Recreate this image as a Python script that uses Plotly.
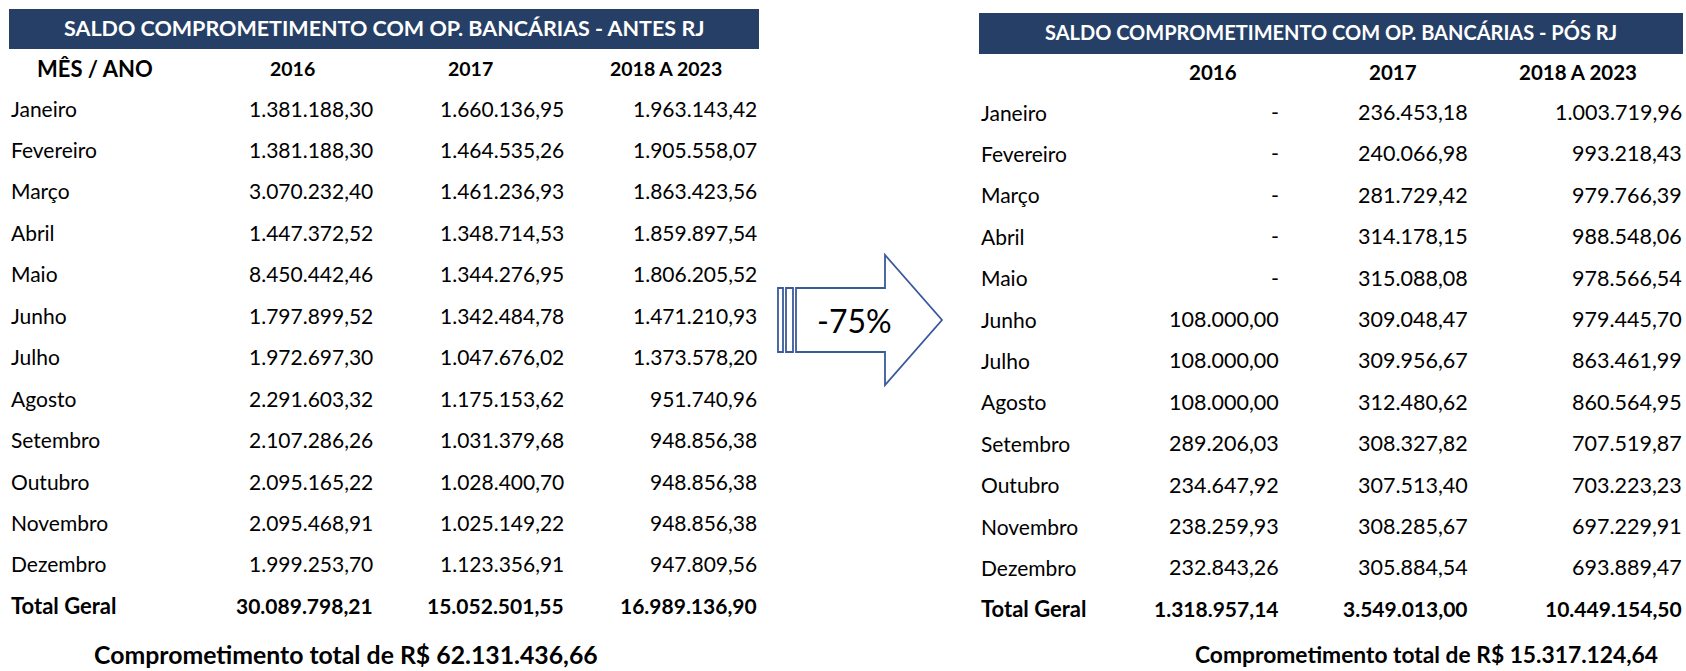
import plotly.graph_objects as go

# ---------------- DATA ----------------
months = ["Janeiro", "Fevereiro", "Março", "Abril", "Maio", "Junho", "Julho",
          "Agosto", "Setembro", "Outubro", "Novembro", "Dezembro"]
col_headers = ["2016", "2017", "2018 A 2023"]

antes_2016 = [1381188.30, 1381188.30, 3070232.40, 1447372.52, 8450442.46, 1797899.52,
              1972697.30, 2291603.32, 2107286.26, 2095165.22, 2095468.91, 1999253.70]
antes_2017 = [1660136.95, 1464535.26, 1461236.93, 1348714.53, 1344276.95, 1342484.78,
              1047676.02, 1175153.62, 1031379.68, 1028400.70, 1025149.22, 1123356.91]
antes_2018_2023 = [1963143.42, 1905558.07, 1863423.56, 1859897.54, 1806205.52, 1471210.93,
                   1373578.20, 951740.96, 948856.38, 948856.38, 948856.38, 947809.56]
antes_totals = [30089798.21, 15052501.55, 16989136.90]
antes_grand_total = 62131436.66

pos_2016 = [None, None, None, None, None, 108000.00, 108000.00, 108000.00,
            289206.03, 234647.92, 238259.93, 232843.26]
pos_2017 = [236453.18, 240066.98, 281729.42, 314178.15, 315088.08, 309048.47,
            309956.67, 312480.62, 308327.82, 307513.40, 308285.67, 305884.54]
pos_2018_2023 = [1003719.96, 993218.43, 979766.39, 988548.06, 978566.54, 979445.70,
                 863461.99, 860564.95, 707519.87, 703223.23, 697229.91, 693889.47]
pos_totals = [1318957.14, 3549013.00, 10449154.50]
pos_grand_total = 15317124.64

title_antes = "SALDO COMPROMETIMENTO COM OP. BANCÁRIAS - ANTES RJ"
title_pos = "SALDO COMPROMETIMENTO COM OP. BANCÁRIAS - PÓS RJ"
reduction_label = "-75%"

# ---------------- STYLE / LAYOUT ----------------
W, H = 1686, 671
FONT = "Lato"
NAVY = "#263F66"
ARROW = "#3B5A9A"
TEXT_DY = -2


def brl(v):
    if v is None or v == 0:
        return "-"
    s = f"{v:,.2f}"
    return s.replace(",", "X").replace(".", ",").replace("X", ".")


annotations = []
shapes = []


def txt(x, y, text, size=21, bold=False, anchor="right", color="black"):
    annotations.append(dict(
        x=x, y=y + TEXT_DY, xref="x", yref="y", text=f"<b>{text}</b>" if bold else text,
        showarrow=False, xanchor=anchor, yanchor="middle",
        font=dict(family=FONT, size=size, color=color), borderpad=0))


def table(box, title, title_size, header_y, header_size, first_row_y, row_step,
          total_y, label_x, header_x, value_right, value_size, cols, totals,
          month_header, footer_x, footer_y, footer_size, grand):
    x0, y0, x1, y1 = box
    shapes.append(dict(type="rect", xref="x", yref="y", x0=x0, x1=x1, y0=y0, y1=y1,
                       fillcolor=NAVY, line=dict(width=0), layer="below"))
    txt((x0 + x1) / 2, (y0 + y1) / 2 + 0.5, title, size=title_size, bold=True,
        anchor="center", color="white")
    if month_header:
        txt(95, header_y, month_header, size=22, bold=True, anchor="center")
    for hx, h in zip(header_x, col_headers):
        txt(hx, header_y, h, size=header_size, bold=True, anchor="center")
    for i, m in enumerate(months):
        y = first_row_y + i * row_step
        txt(label_x, y, m, size=21, anchor="left")
        for rx, col in zip(value_right, cols):
            txt(rx, y, brl(col[i]), size=value_size)
    txt(label_x, total_y, "Total Geral", size=22, bold=True, anchor="left")
    for rx, t in zip(value_right, totals):
        txt(rx, total_y, brl(t), size=21, bold=True)
    txt(footer_x, footer_y, f"Comprometimento total de R$ {brl(grand)}",
        size=footer_size, bold=True, anchor="center")


table(box=(9, 9, 759, 49), title=title_antes, title_size=21.5, header_y=70,
      header_size=19.5, first_row_y=110, row_step=41.45, total_y=607, label_x=10,
      header_x=[292, 470, 666], value_right=[374, 565, 758], value_size=21,
      cols=[antes_2016, antes_2017, antes_2018_2023], totals=antes_totals,
      month_header="MÊS / ANO", footer_x=346, footer_y=656, footer_size=24.8,
      grand=antes_grand_total)

table(box=(979, 13, 1683, 54), title=title_pos, title_size=20, header_y=74,
      header_size=20.5, first_row_y=114, row_step=41.4, total_y=610, label_x=980,
      header_x=[1213, 1393, 1578], value_right=[1280, 1469, 1683], value_size=21.5,
      cols=[pos_2016, pos_2017, pos_2018_2023], totals=pos_totals,
      month_header=None, footer_x=1426, footer_y=656, footer_size=22.8,
      grand=pos_grand_total)

# arrow with the reduction label
shapes.append(dict(type="rect", xref="x", yref="y", x0=778, x1=783, y0=288, y1=352,
                   fillcolor="white", line=dict(color=ARROW, width=1.8)))
shapes.append(dict(type="rect", xref="x", yref="y", x0=786, x1=793, y0=288, y1=352,
                   fillcolor="white", line=dict(color=ARROW, width=1.8)))
shapes.append(dict(type="path", xref="x", yref="y",
                   path="M 796 288 L 885 288 L 885 255 L 942 320 L 885 385 L 885 352 L 796 352 Z",
                   fillcolor="white", line=dict(color=ARROW, width=1.8)))
txt(854, 322, reduction_label, size=32, anchor="center")

fig = go.Figure()
fig.add_trace(go.Scatter(x=[0, W], y=[0, H], mode="markers",
                         marker=dict(opacity=0), hoverinfo="skip", showlegend=False))
fig.update_layout(
    width=W, height=H, margin=dict(l=0, r=0, t=0, b=0),
    paper_bgcolor="white", plot_bgcolor="white",
    xaxis=dict(range=[0, W], visible=False, fixedrange=True),
    yaxis=dict(range=[H, 0], visible=False, fixedrange=True),
    annotations=annotations, shapes=shapes, showlegend=False,
)
fig.write_html("out.html", config={"displayModeBar": False},
               post_script="document.body.style.margin='0';document.body.style.overflow='hidden';")
